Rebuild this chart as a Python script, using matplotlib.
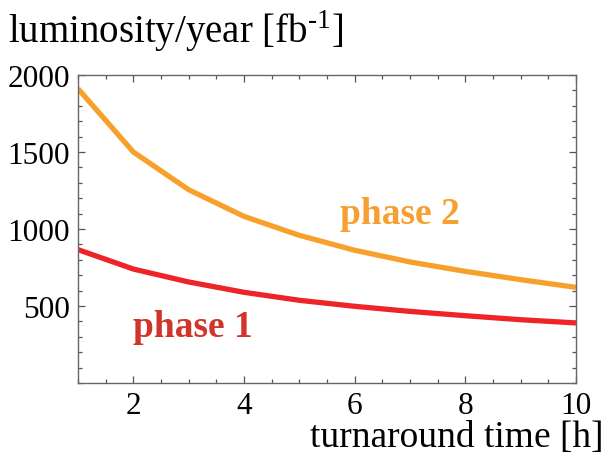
import numpy as np
import matplotlib
matplotlib.use('Agg')
import matplotlib.pyplot as plt
from matplotlib.ticker import MultipleLocator, FixedLocator

plt.rcParams['font.family'] = ['Liberation Serif', 'DejaVu Serif']
plt.rcParams['mathtext.fontset'] = 'custom'
plt.rcParams['mathtext.rm'] = 'Liberation Serif'

# turnaround time [h]
turnaround = [1, 2, 3, 4, 5, 6, 7, 8, 9, 10]
# luminosity per year [fb^-1]
phase1 = [866, 740, 656, 589, 537, 498, 465, 437, 411, 390]
phase2 = [1911, 1500, 1255, 1082, 959, 862, 786, 725, 671, 621]

labels = ['phase 1', 'phase 2']
linecolors = ['#EE2428', '#F7A12C']
textcolors = ['#D0352C', '#F5A030']

fig = plt.figure(figsize=(6.14, 4.6), dpi=100)
ax = fig.add_axes([78/614, 1-384/460, (576-78)/614, (384-76)/460])

ax.plot(turnaround, phase2, color=linecolors[1], linewidth=3.8, solid_capstyle='butt')
ax.plot(turnaround, phase1, color=linecolors[0], linewidth=3.8, solid_capstyle='butt')

ax.set_xlim(1, 10)
ax.set_ylim(0, 2000)

# ticks: Mathematica style, inward, on all sides
ax.xaxis.set_major_locator(FixedLocator([2, 4, 6, 8, 10]))
ax.xaxis.set_minor_locator(MultipleLocator(0.5))
ax.yaxis.set_major_locator(FixedLocator([500, 1000, 1500, 2000]))
ax.yaxis.set_minor_locator(MultipleLocator(100))
ax.tick_params(which='both', direction='in', top=True, right=True,
               color='#555555', width=0.9)
ax.tick_params(which='major', length=5, labelsize=22.5, pad=6)
ax.tick_params(which='minor', length=3)
for s in ax.spines.values():
    s.set_color('#666666')
    s.set_linewidth(1.0)

# series labels
ax.text(1.99, 305, labels[0], color=textcolors[0], fontsize=27,
        fontweight='bold', ha='left', va='baseline')
ax.text(5.74, 1039, labels[1], color=textcolors[1], fontsize=27,
        fontweight='bold', ha='left', va='baseline')

# axis titles placed like Mathematica's frame labels
fig.text(8/614, 1-43/460, r'luminosity/year [fb$^{\text{-}1}$]',
         fontsize=28, ha='left', va='baseline')
fig.text(603/614, 1-447/460, 'turnaround time [h]',
         fontsize=27, ha='right', va='baseline')

fig.savefig('out.png', dpi=100)
